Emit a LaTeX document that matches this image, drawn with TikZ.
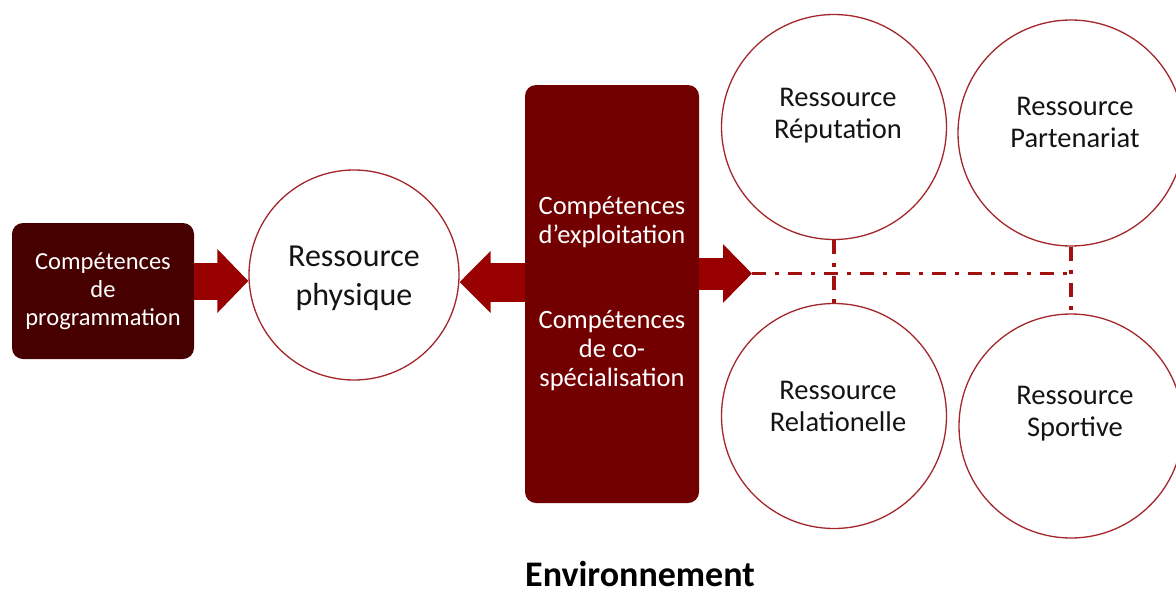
\documentclass[tikz,border=0pt]{standalone}
\usepackage{fontspec}
\setmainfont{Carlito}
\usetikzlibrary{arrows.meta,calc}
\definecolor{boxdark}{HTML}{470000}
\definecolor{boxmid}{HTML}{730000}
\definecolor{arrowred}{HTML}{990000}
\definecolor{ringred}{HTML}{A3262A}
\definecolor{dashred}{HTML}{A31010}
\definecolor{inktext}{HTML}{141414}
\tikzset{
  compbox/.style={fill=#1, rounded corners=11pt, draw=none, text=white, align=center, inner sep=0pt},
  resring/.style={circle, draw=ringred, line width=1.3pt, fill=white, inner sep=0pt, minimum size=#1},
  restext/.style={text=inktext, align=center, font=\fontsize{28.5}{32}\selectfont},
  bigarrow/.style args={#1/#2/#3}{draw=arrowred, line width=#1, -{Triangle[length=#3, width=#2, fill=arrowred]}},
  dashdot/.style={draw=dashred, line width=3.5pt, dash pattern=on 14pt off 9pt on 4pt off 9pt}
}
\begin{document}
\begin{tikzpicture}[x=1pt,y=-1pt]
\useasboundingbox (0,0) rectangle (1176,595);
% boxes
\node[compbox=boxdark, minimum width=182pt, minimum height=136pt, font=\fontsize{24.5}{28}\selectfont] (prog) at (103,291) {Compétences\\de\\programmation};
\node[compbox=boxmid, minimum width=174pt, minimum height=418pt, font=\fontsize{26.5}{29}\selectfont] (mid) at (612,294) {Compétences\\d’exploitation\\[56pt]Compétences\\de co-\\spécialisation};
% circles
\node[resring=210pt] (phys) at (354,275) {};
\node[text=inktext, align=center, font=\fontsize{32}{39}\selectfont] (physT) at (354,278) {Ressource\\physique};
\node[resring=225pt] (rep) at (834,127) {};
\node[restext] (repT) at (838,116) {Ressource\\Réputation};
\node[resring=226pt] (part) at (1071,133) {};
\node[restext] (partT) at (1075,122) {Ressource\\Partenariat};
\node[resring=225pt] (rel) at (834,416) {};
\node[restext] (relT) at (838,406) {Ressource\\Relationelle};
\node[resring=224pt] (sport) at (1071,426) {};
\node[restext] (sportT) at (1075,414) {Ressource\\Sportive};
% title
\node[font=\bfseries\fontsize{36}{40}\selectfont, text=black, anchor=base, inner sep=0pt] (env) at (640,586) {Environnement};
% arrows
\draw[bigarrow=37pt/62pt/31pt] ($(prog.east)+(0,-10)$) -- ($(phys.west)+(0,6)$);
\coordinate (a2s) at ($(mid.west)+(0,-12)$);
\draw[bigarrow=39pt/60pt/31pt] (a2s) -- (phys.east |- a2s);
\coordinate (tip) at (752,273.5);
\draw[bigarrow=32pt/57pt/29pt] (mid.east |- tip) -- (tip);
\coordinate (hend) at (part.south |- tip);
% dash-dot connectors
\draw[dashdot] (tip) -- (hend);
\draw[dashdot] (rep.south) -- (rel.north);
\draw[dashdot] (part.south) -- (sport.north);
\end{tikzpicture}
\end{document}
